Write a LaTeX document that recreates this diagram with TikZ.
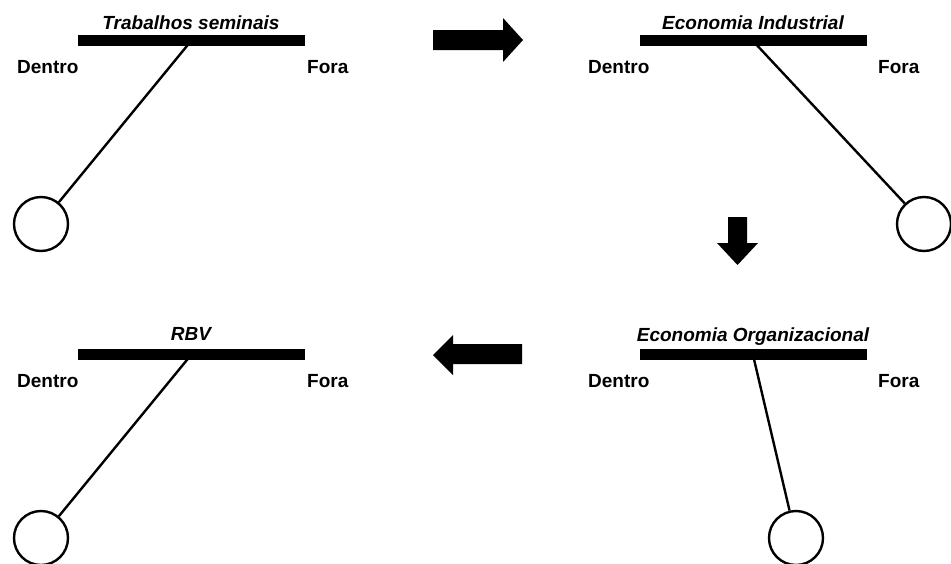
\documentclass[tikz,border=0pt]{standalone}
\usepackage{fontspec}
\setmainfont{Liberation Sans}
\begin{document}
\begin{tikzpicture}[x=1pt,y=-1pt,
  bar/.style={line width=11pt},
  stick/.style={line width=2.4pt},
  bob/.style={circle,draw,line width=2.4pt,minimum size=54pt,inner sep=0pt,fill=white},
  side/.style={anchor=base west,inner sep=0pt,font=\fontsize{19}{21}\selectfont\bfseries},
  ttl/.style={anchor=base,inner sep=0pt,font=\fontsize{19}{21}\selectfont\bfseries\itshape},
  blockarrow/.style={fill=black}]
\useasboundingbox (0,0) rectangle (951,563);

% ---- panel 1: Trabalhos seminais
\draw[bar] (78,40) -- (305,40);
\coordinate (p1) at (191,41);
\node[ttl] (t1) at (191,29) {Trabalhos seminais};
\node[side] (d1) at (17,73) {Dentro};
\node[side] (f1) at (307,73) {Fora};
\node[bob] (b1) at (41,224) {};
\draw[stick] (p1) -- (b1);

% ---- panel 2: Economia Industrial
\draw[bar] (640,40) -- (867,40);
\coordinate (p2) at (753,41);
\node[ttl] (t2) at (753,29) {Economia Industrial};
\node[side] (d2) at (588,73) {Dentro};
\node[side] (f2) at (878,73) {Fora};
\node[bob] (b2) at (924,224) {};
\draw[stick] (p2) -- (b2);

% ---- panel 3: Economia Organizacional
\draw[bar] (640,354) -- (867,354);
\coordinate (p3) at (753,355);
\node[ttl] (t3) at (753,341) {Economia Organizacional};
\node[side] (d3) at (588,387) {Dentro};
\node[side] (f3) at (878,387) {Fora};
\node[bob] (b3) at (796,538) {};
\draw[stick] (p3) -- (b3);

% ---- panel 4: RBV
\draw[bar] (78,354) -- (305,354);
\coordinate (p4) at (191,355);
\node[ttl] (t4) at (191,340) {RBV};
\node[side] (d4) at (17,387) {Dentro};
\node[side] (f4) at (307,387) {Fora};
\node[bob] (b4) at (41,538) {};
\draw[stick] (p4) -- (b4);

% ---- block arrows
\fill[blockarrow] (433,30) -- (503,30) -- (503,18) -- (523,40) -- (503,62) -- (503,50) -- (433,50) -- cycle;
\fill[blockarrow] (728,217) -- (747,217) -- (747,243) -- (758,243) -- (737.5,265) -- (717,243) -- (728,243) -- cycle;
\fill[blockarrow] (522,344) -- (453,344) -- (453,335) -- (433,355) -- (453,375) -- (453,364) -- (522,364) -- cycle;
\end{tikzpicture}
\end{document}
